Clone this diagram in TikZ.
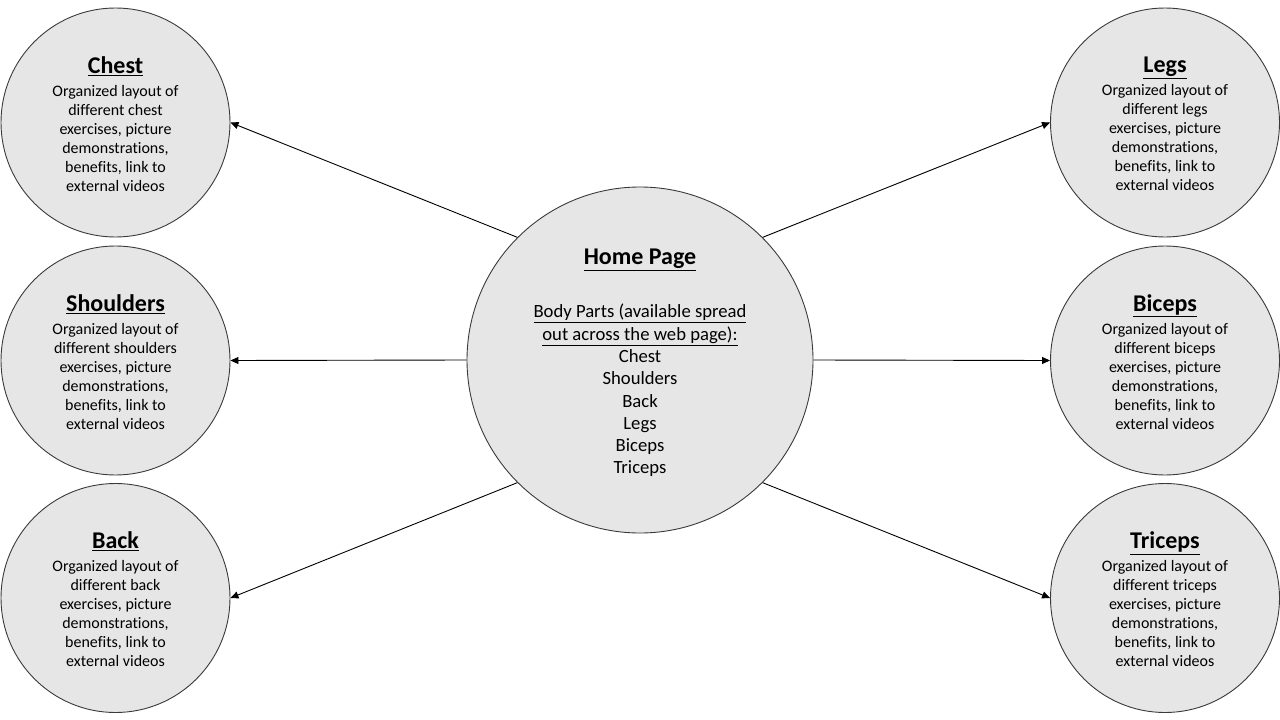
\documentclass[tikz,border=0pt]{standalone}
\usepackage{fontspec}
\setmainfont{Carlito}[Ligatures=NoCommon]
\usetikzlibrary{arrows.meta}

\definecolor{partfill}{HTML}{E7E6E6}
\definecolor{partedge}{HTML}{3A3A3A}

\tikzset{
  part/.style={circle, draw=partedge, line width=0.9pt, fill=partfill,
    minimum size=229pt, inner sep=0pt},
  hub/.style={part, minimum size=346pt},
  parttext/.style={align=center, inner sep=0pt,
    font=\fontsize{16}{19}\selectfont},
  hubtext/.style={parttext, font=\fontsize{18.67}{22.3}\selectfont},
  link/.style={-{Triangle[length=8pt,width=7pt]}, line width=0.9pt, black},
}

% heading of a circle: bold and underlined
\newcommand{\parttitle}[1]{{\fontsize{24}{28}\selectfont\bfseries\underline{#1}}}
\newcommand{\partbody}[1]{Organized layout of\\different #1\\exercises, picture\\demonstrations,\\benefits, link to\\external videos}

\begin{document}
\begin{tikzpicture}[x=1pt,y=-1pt]
  \useasboundingbox (0,0) rectangle (1280,720);

  % central page
  \node[hub] (home) at (640,360) {};
  \node[hubtext] (home-t) at ([yshift=-3pt]home.center) {%
    \parttitle{Home Page}\\[31pt]
    \underline{Body Parts (available spread}\\
    \underline{out across the web page):}\\
    Chest\\Shoulders\\Back\\Legs\\Biceps\\Triceps};

  % left column
  \node[part] (chest)     at (115.5,122.5) {};
  \node[part] (shoulders) at (115.5,360.5) {};
  \node[part] (back)      at (115.5,598)   {};

  % right column
  \node[part] (legs)      at (1165,122.5)  {};
  \node[part] (biceps)    at (1165,360.5)  {};
  \node[part] (triceps)   at (1165,598)    {};

  % circle texts
  \node[parttext] (chest-t)     at ([yshift=-1.5pt]chest.center)     {\parttitle{Chest}\\[4pt]\partbody{chest}};
  \node[parttext] (shoulders-t) at ([yshift=-1.5pt]shoulders.center) {\parttitle{Shoulders}\\[4pt]\partbody{shoulders}};
  \node[parttext] (back-t)      at ([yshift=-1.5pt]back.center)      {\parttitle{Back}\\[4pt]\partbody{back}};
  \node[parttext] (legs-t)      at ([yshift=-1.5pt]legs.center)      {\parttitle{Legs}\\[4pt]\partbody{legs}};
  \node[parttext] (biceps-t)    at ([yshift=-1.5pt]biceps.center)    {\parttitle{Biceps}\\[4pt]\partbody{biceps}};
  \node[parttext] (triceps-t)   at ([yshift=-1.5pt]triceps.center)   {\parttitle{Triceps}\\[4pt]\partbody{triceps}};

  % links from the home page to each body part
  \draw[link] (home.135) -- (chest.east);
  \draw[link] (home.west) -- (shoulders.east);
  \draw[link] (home.225) -- (back.east);
  \draw[link] (home.45)  -- (legs.west);
  \draw[link] (home.east) -- (biceps.west);
  \draw[link] (home.315) -- (triceps.west);
\end{tikzpicture}
\end{document}
